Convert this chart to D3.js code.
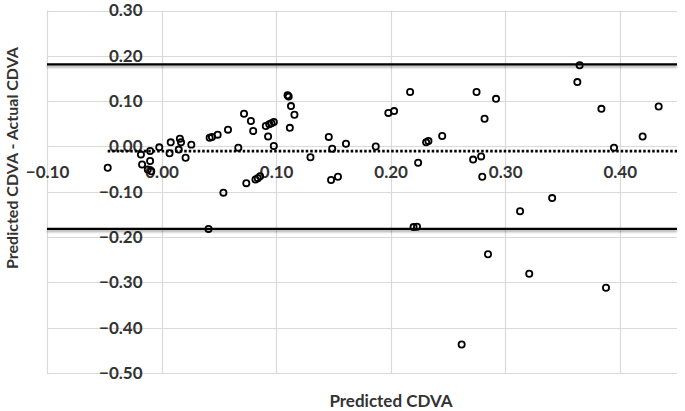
<!DOCTYPE html>
<html>
<head>
<meta charset="utf-8">
<script src="https://cdn.jsdelivr.net/npm/d3@7"></script>
<style>
  html, body { margin: 0; padding: 0; background: #fff; }
  svg { display: block; font-family: Lato, "Open Sans", sans-serif; }
</style>
</head>
<body>
<svg id="chart" width="685" height="411"></svg>
<script>
// ---- data ----
const predicted = [
  -0.047, -0.018, -0.017, -0.010, -0.010, -0.012, -0.009, -0.002, 0.008, 0.007,
  0.016, 0.017, 0.015, 0.021, 0.026, 0.042, 0.044, 0.049, 0.058, 0.054,
  0.041, 0.067, 0.072, 0.078, 0.080, 0.074, 0.082, 0.084, 0.086, 0.091,
  0.094, 0.096, 0.098, 0.093, 0.098, 0.110, 0.111, 0.113, 0.116, 0.112,
  0.130, 0.146, 0.149, 0.161, 0.148, 0.154, 0.187, 0.198, 0.203, 0.217,
  0.220, 0.223, 0.224, 0.231, 0.233, 0.245, 0.275, 0.292, 0.282, 0.272,
  0.279, 0.280, 0.285, 0.262, 0.313, 0.321, 0.341, 0.365, 0.363, 0.384,
  0.395, 0.420, 0.434, 0.388
];
const difference = [
  -0.047, -0.018, -0.040, -0.010, -0.032, -0.051, -0.055, -0.002, 0.009, -0.015,
  0.017, 0.009, -0.007, -0.025, 0.004, 0.019, 0.021, 0.026, 0.037, -0.102,
  -0.182, -0.003, 0.072, 0.056, 0.034, -0.081, -0.073, -0.070, -0.066, 0.045,
  0.049, 0.051, 0.054, 0.022, 0.001, 0.113, 0.110, 0.089, 0.070, 0.041,
  -0.024, 0.021, -0.005, 0.006, -0.074, -0.067, 0.000, 0.074, 0.078, 0.120,
  -0.178, -0.177, -0.036, 0.009, 0.012, 0.023, 0.120, 0.105, 0.061, -0.029,
  -0.022, -0.067, -0.238, -0.437, -0.143, -0.281, -0.114, 0.179, 0.142, 0.083,
  -0.003, 0.022, 0.088, -0.312
];
const meanDiff = -0.0104;
const upperLimit = 0.181;
const lowerLimit = -0.182;
const xTicks = [-0.10, 0.00, 0.10, 0.20, 0.30, 0.40];
const yTicks = [-0.50, -0.40, -0.30, -0.20, -0.10, 0.00, 0.10, 0.20, 0.30];
const xTitle = "Predicted CDVA";
const yTitle = "Predicted CDVA - Actual CDVA";

// ---- layout ----
const svg = d3.select("#chart");
const x = d3.scaleLinear().domain([-0.10, 0.45]).range([47, 677]);
const y = d3.scaleLinear().domain([-0.50, 0.30]).range([373, 10.5]);

const defs = svg.append("defs");
const f = defs.append("filter").attr("id", "shadow")
  .attr("filterUnits", "userSpaceOnUse")
  .attr("x", 0).attr("y", 0).attr("width", 685).attr("height", 411);
f.append("feDropShadow").attr("dx", 0).attr("dy", 2).attr("stdDeviation", 1.3)
  .attr("flood-color", "#000").attr("flood-opacity", 0.35);

// gridlines
const grid = svg.append("g");
grid.selectAll("line.h").data(yTicks).join("line")
  .attr("x1", x.range()[0]).attr("x2", x.range()[1])
  .attr("y1", d => Math.round(y(d)) + 0.5).attr("y2", d => Math.round(y(d)) + 0.5)
  .attr("stroke", "#d9d9d9").attr("stroke-width", 1.2);
grid.selectAll("line.v").data(xTicks).join("line")
  .attr("y1", y.range()[0]).attr("y2", y.range()[1])
  .attr("x1", d => Math.round(x(d)) + 0.5).attr("x2", d => Math.round(x(d)) + 0.5)
  .attr("stroke", "#d9d9d9").attr("stroke-width", 1.2);

// axes (labels next to the zero lines)
const fmt = d3.format(".2f");
const yAxis = svg.append("g")
  .attr("transform", `translate(${x(0)},0)`)
  .call(d3.axisLeft(y).tickValues(yTicks).tickFormat(fmt).tickSize(0).tickPadding(19));
const xAxis = svg.append("g")
  .attr("transform", `translate(0,${y(0)})`)
  .call(d3.axisBottom(x).tickValues(xTicks).tickFormat(fmt).tickSize(0));
[yAxis, xAxis].forEach(a => {
  a.select(".domain").remove();
  a.selectAll("text")
    .attr("font-family", "Lato, sans-serif")
    .attr("font-size", 17).attr("font-weight", "bold").attr("fill", "#333");
});
xAxis.selectAll("text").attr("y", 26).attr("dy", "0.35em");

// limits of agreement
[upperLimit, lowerLimit].forEach(v => {
  svg.append("line")
    .attr("x1", x.range()[0]).attr("x2", x.range()[1])
    .attr("y1", y(v)).attr("y2", y(v))
    .attr("stroke", "#000").attr("stroke-width", 2.4).attr("filter", "url(#shadow)");
});
// mean line
svg.append("line")
  .attr("x1", x(d3.min(predicted))).attr("x2", x.range()[1])
  .attr("y1", y(meanDiff)).attr("y2", y(meanDiff))
  .attr("stroke", "#000").attr("stroke-width", 2.6).attr("stroke-dasharray", "2.5,2");

// points
const pts = predicted.map((p, i) => ({ p, d: difference[i] }));
svg.append("g").selectAll("circle").data(pts).join("circle")
  .attr("cx", d => x(d.p)).attr("cy", d => y(d.d)).attr("r", 3.1)
  .attr("fill", "none").attr("stroke", "#000").attr("stroke-width", 1.8);

// titles
svg.append("text")
  .attr("x", 391).attr("y", 401).attr("dy", "0.35em")
  .attr("text-anchor", "middle")
  .attr("font-size", 17).attr("font-weight", "bold").attr("fill", "#333")
  .text(xTitle);
svg.append("text")
  .attr("transform", "translate(12,158) rotate(-90)")
  .attr("dy", "0.35em")
  .attr("text-anchor", "middle")
  .attr("font-size", 16).attr("font-weight", "bold").attr("fill", "#333")
  .text(yTitle);
</script>
</body>
</html>
